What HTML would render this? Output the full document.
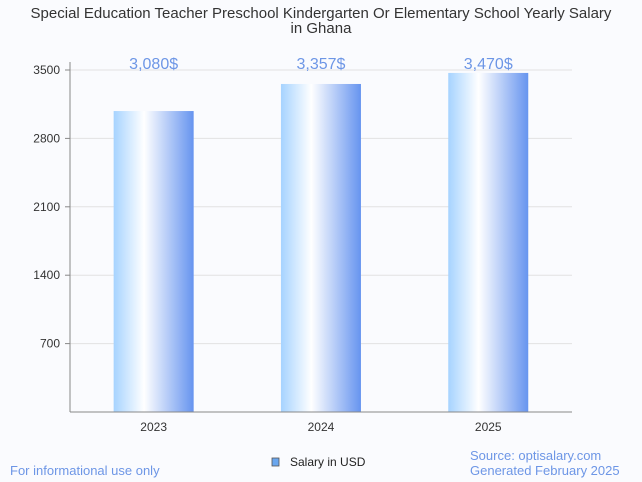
<!DOCTYPE html>
<html><head><meta charset="utf-8"><style>
body{margin:0;background:#fafbfe;font-family:"Liberation Sans",sans-serif;}
svg{display:block}
</style></head><body>
<svg width="642" height="482" xmlns="http://www.w3.org/2000/svg">
<defs><linearGradient id="g" x1="0" x2="1" y1="0" y2="0">
<stop offset="0" stop-color="#a6d3ff"/><stop offset="0.38" stop-color="#ffffff"/><stop offset="1" stop-color="#6694ef"/></linearGradient></defs>
<rect width="642" height="482" fill="#fafbfe"/>
<text x="321" y="18" text-anchor="middle" font-size="15" fill="#333">Special Education Teacher Preschool Kindergarten Or Elementary School Yearly Salary</text>
<text x="321" y="33" text-anchor="middle" font-size="15" fill="#333">in Ghana</text>
<g id="grid"></g><g id="bars"></g>
<line x1="70" y1="62" x2="70" y2="412" stroke="#888"/>
<line x1="70" y1="412" x2="572" y2="412" stroke="#888"/>
<text x="10" y="475" font-size="13" fill="#6d96e6">For informational use only</text>
<rect x="272" y="458" width="7" height="8" fill="#6aa6ee" stroke="#555" stroke-width="0.8"/>
<text x="290" y="466" font-size="12" fill="#222">Salary in USD</text>
<text x="470" y="460" font-size="13" fill="#6d96e6">Source: optisalary.com</text>
<text x="470" y="475" font-size="13" fill="#6d96e6">Generated February 2025</text>
</svg>
<script>
const categories=["2023","2024","2025"];
const values=[3080,3357,3470];
const valueLabels=["3,080$","3,357$","3,470$"];
const ticks=[700,1400,2100,2800,3500];
const NS="http://www.w3.org/2000/svg";
const y=v=>412-v*(342/3500);
const x0=70,cw=167.3;
const cx=i=>x0+cw*(i+0.5);
const grid=document.getElementById('grid'),bars=document.getElementById('bars');
function mk(t,a,p){const e=document.createElementNS(NS,t);for(const k in a)e.setAttribute(k,a[k]);p.appendChild(e);return e;}
ticks.forEach(t=>{
 const l=mk('line',{x1:70,x2:572,y1:y(t),y2:y(t),stroke:'#e2e2e2'},grid);
 
 
 const k=mk('line',{x1:65,x2:70,y1:y(t),y2:y(t),stroke:'#888'},grid);
 
 
 const tx=mk('text',{x:60,y:y(t)+4,'text-anchor':'end','font-size':12,fill:'#333'},grid);
 tx.textContent=t;
 
 
});
categories.forEach((c,i)=>{
 const r=mk('rect',{x:cx(i)-40,y:y(values[i]),width:80,height:412-y(values[i]),fill:'url(#g)'},bars);
 
 
 const v=mk('text',{x:cx(i),y:y(3500)-1,'text-anchor':'middle','font-size':16,fill:'#6d96e6'},bars);
 v.textContent=valueLabels[i];
 
 
 const l=mk('text',{x:cx(i),y:431,'text-anchor':'middle','font-size':12,fill:'#333'},bars);
 l.textContent=c;
 
 
});
</script>
</body></html>
